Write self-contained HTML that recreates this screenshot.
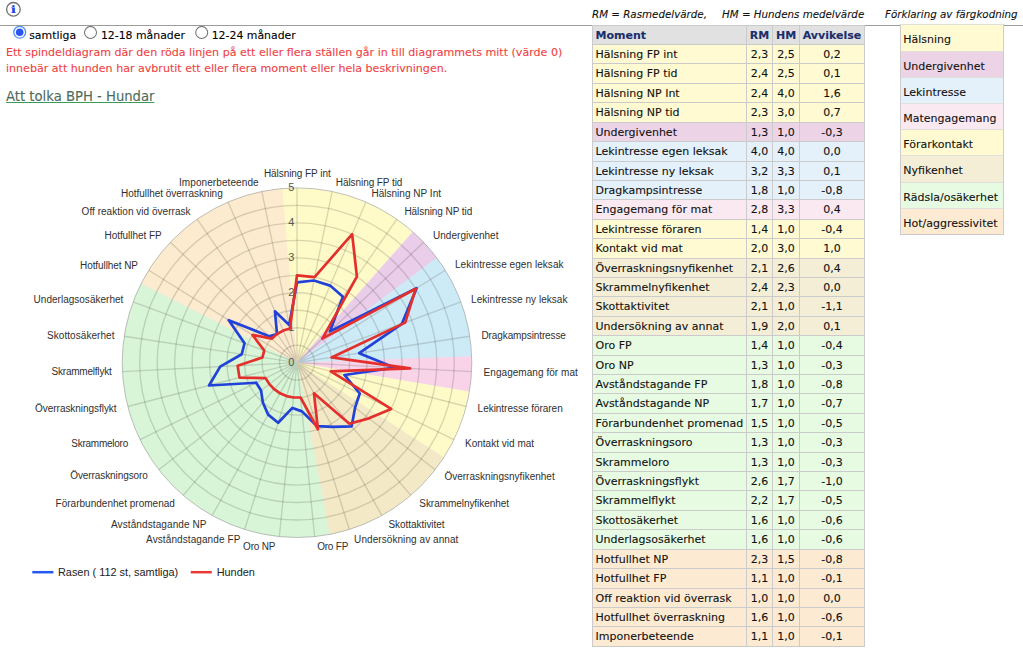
<!DOCTYPE html>
<html lang="sv"><head><meta charset="utf-8"><title>BPH spindeldiagram</title>
<style>html,body{margin:0;padding:0;background:#fff;}
body{-webkit-text-stroke:0.1px;width:1023px;height:655px;position:relative;overflow:hidden;font-family:"DejaVu Sans","Liberation Sans",sans-serif;font-size:11px;color:#111;}
.abs{position:absolute;white-space:nowrap;}
#hr{position:absolute;left:0;top:25px;width:1023px;height:1px;background:#9c9c9c;}
.rl{position:absolute;top:28.5px;font-size:10.9px;line-height:14px;color:#000;white-space:nowrap;}
#red{position:absolute;left:6px;top:45px;font-size:11.07px;line-height:15.55px;color:#ef4141;white-space:nowrap;}
#lnk{position:absolute;left:6px;top:88.5px;font-size:13.2px;line-height:16px;color:#4d6b5c;text-decoration:underline;text-decoration-color:#3b9a55;white-space:nowrap;}
.it{position:absolute;top:8px;font-style:italic;font-size:10.3px;line-height:13px;color:#111;white-space:pre;}
#tbl{position:absolute;left:592px;top:25px;width:273px;height:622px;background:#cbcbcb;}
.r{position:absolute;left:0;width:273px;}
.c{position:absolute;top:1px;bottom:0;line-height:20px;font-size:11px;white-space:nowrap;color:#111;}
.c1{left:1px;width:153px;text-indent:2.5px;}
.c2{left:155px;width:25px;text-align:center;}
.c3{left:181px;width:26px;text-align:center;}
.c4{left:208px;width:64px;text-align:center;}
.h .c{background:#e1e1e1;color:#1a2e6b;font-weight:bold;}
#leg{position:absolute;left:900px;top:24px;width:104px;height:211px;background:#dfdfdb;}
.lb{position:absolute;top:0;width:1px;height:211px;background:#cdcdcd;}
.lbb{position:absolute;left:0;bottom:0;width:104px;height:1px;background:#c9c9c9;}
.l{position:absolute;left:1px;width:102px;line-height:30px;font-size:11px;text-indent:2.3px;color:#111;white-space:nowrap;}
svg text{font-family:"Liberation Sans",sans-serif;-webkit-text-stroke:0;}
.ty .c,.l.ty{background:#fffad2;}
.tp .c,.l.tp{background:#ecd3e6;}
.tb .c,.l.tb{background:#e4f0fa;}
.tk .c,.l.tk{background:#fbe9f1;}
.tn .c,.l.tn{background:#f5eed6;}
.tg .c,.l.tg{background:#e6fbe2;}
.to .c,.l.to{background:#fdead3;}
</style></head><body>
<svg class="abs" style="left:0;top:0" width="40" height="24" viewBox="0 0 40 24"><circle cx="13.4" cy="9.3" r="6.8" fill="#fff" stroke="#707070" stroke-width="1.3"/><text transform="translate(13.45,12.85) scale(1.45,1.0)" x="0" y="0" text-anchor="middle" style="font-family:'DejaVu Serif','Liberation Serif',serif;font-weight:bold;font-size:10.4px;text-rendering:geometricPrecision" fill="#1f43f2">i</text></svg>
<div id="hr"></div>
<svg class="abs" style="left:0;top:26px" width="320" height="16" viewBox="0 26 320 16"><circle cx="19.7" cy="32.2" r="5.9" fill="#fff" stroke="#5590f7" stroke-width="1.3"/><circle cx="19.7" cy="32.2" r="3.8" fill="#2a55f3"/><circle cx="90.5" cy="32.5" r="6" fill="#fff" stroke="#727272" stroke-width="1.05"/><circle cx="201.7" cy="32.5" r="6" fill="#fff" stroke="#727272" stroke-width="1.05"/></svg>
<span class="rl" style="left:29.2px">samtliga</span><span class="rl" style="left:100.9px">12-18 månader</span><span class="rl" style="left:211.7px">12-24 månader</span>
<div id="red">Ett spindeldiagram där den röda linjen på ett eller flera ställen går in till diagrammets mitt (värde 0)<br>innebär att hunden har avbrutit ett eller flera moment eller hela beskrivningen.</div>
<a id="lnk">Att tolka BPH - Hundar</a>
<span class="it" style="left:592px">RM = Rasmedelvärde,</span><span class="it" style="left:722px">HM = Hundens medelvärde</span><span class="it" style="left:885px">Förklaring av färgkodning</span>
<div id="tbl">
<div class="r h" style="top:0;height:19px"><span class="c c1">Moment</span><span class="c c2">RM</span><span class="c c3">HM</span><span class="c c4">Avvikelse</span></div>
<div class="r ty" style="top:19px;height:19px"><span class="c c1">Hälsning FP int</span><span class="c c2">2,3</span><span class="c c3">2,5</span><span class="c c4">0,2</span></div>
<div class="r ty" style="top:38px;height:20px"><span class="c c1">Hälsning FP tid</span><span class="c c2">2,4</span><span class="c c3">2,5</span><span class="c c4">0,1</span></div>
<div class="r ty" style="top:58px;height:19px"><span class="c c1">Hälsning NP Int</span><span class="c c2">2,4</span><span class="c c3">4,0</span><span class="c c4">1,6</span></div>
<div class="r ty" style="top:77px;height:20px"><span class="c c1">Hälsning NP tid</span><span class="c c2">2,3</span><span class="c c3">3,0</span><span class="c c4">0,7</span></div>
<div class="r tp" style="top:97px;height:19px"><span class="c c1">Undergivenhet</span><span class="c c2">1,3</span><span class="c c3">1,0</span><span class="c c4">-0,3</span></div>
<div class="r tb" style="top:116px;height:20px"><span class="c c1">Lekintresse egen leksak</span><span class="c c2">4,0</span><span class="c c3">4,0</span><span class="c c4">0,0</span></div>
<div class="r tb" style="top:136px;height:19px"><span class="c c1">Lekintresse ny leksak</span><span class="c c2">3,2</span><span class="c c3">3,3</span><span class="c c4">0,1</span></div>
<div class="r tb" style="top:155px;height:19px"><span class="c c1">Dragkampsintresse</span><span class="c c2">1,8</span><span class="c c3">1,0</span><span class="c c4">-0,8</span></div>
<div class="r tk" style="top:174px;height:20px"><span class="c c1">Engagemang för mat</span><span class="c c2">2,8</span><span class="c c3">3,3</span><span class="c c4">0,4</span></div>
<div class="r ty" style="top:194px;height:19px"><span class="c c1">Lekintresse föraren</span><span class="c c2">1,4</span><span class="c c3">1,0</span><span class="c c4">-0,4</span></div>
<div class="r ty" style="top:213px;height:20px"><span class="c c1">Kontakt vid mat</span><span class="c c2">2,0</span><span class="c c3">3,0</span><span class="c c4">1,0</span></div>
<div class="r tn" style="top:233px;height:19px"><span class="c c1">Överraskningsnyfikenhet</span><span class="c c2">2,1</span><span class="c c3">2,6</span><span class="c c4">0,4</span></div>
<div class="r tn" style="top:252px;height:19px"><span class="c c1">Skrammelnyfikenhet</span><span class="c c2">2,4</span><span class="c c3">2,3</span><span class="c c4">0,0</span></div>
<div class="r tn" style="top:271px;height:20px"><span class="c c1">Skottaktivitet</span><span class="c c2">2,1</span><span class="c c3">1,0</span><span class="c c4">-1,1</span></div>
<div class="r tn" style="top:291px;height:19px"><span class="c c1">Undersökning av annat</span><span class="c c2">1,9</span><span class="c c3">2,0</span><span class="c c4">0,1</span></div>
<div class="r tg" style="top:310px;height:20px"><span class="c c1">Oro FP</span><span class="c c2">1,4</span><span class="c c3">1,0</span><span class="c c4">-0,4</span></div>
<div class="r tg" style="top:330px;height:19px"><span class="c c1">Oro NP</span><span class="c c2">1,3</span><span class="c c3">1,0</span><span class="c c4">-0,3</span></div>
<div class="r tg" style="top:349px;height:19px"><span class="c c1">Avståndstagande FP</span><span class="c c2">1,8</span><span class="c c3">1,0</span><span class="c c4">-0,8</span></div>
<div class="r tg" style="top:368px;height:20px"><span class="c c1">Avståndstagande NP</span><span class="c c2">1,7</span><span class="c c3">1,0</span><span class="c c4">-0,7</span></div>
<div class="r tg" style="top:388px;height:19px"><span class="c c1">Förarbundenhet promenad</span><span class="c c2">1,5</span><span class="c c3">1,0</span><span class="c c4">-0,5</span></div>
<div class="r tg" style="top:407px;height:20px"><span class="c c1">Överraskningsoro</span><span class="c c2">1,3</span><span class="c c3">1,0</span><span class="c c4">-0,3</span></div>
<div class="r tg" style="top:427px;height:19px"><span class="c c1">Skrammeloro</span><span class="c c2">1,3</span><span class="c c3">1,0</span><span class="c c4">-0,3</span></div>
<div class="r tg" style="top:446px;height:19px"><span class="c c1">Överraskningsflykt</span><span class="c c2">2,6</span><span class="c c3">1,7</span><span class="c c4">-1,0</span></div>
<div class="r tg" style="top:465px;height:20px"><span class="c c1">Skrammelflykt</span><span class="c c2">2,2</span><span class="c c3">1,7</span><span class="c c4">-0,5</span></div>
<div class="r tg" style="top:485px;height:19px"><span class="c c1">Skottosäkerhet</span><span class="c c2">1,6</span><span class="c c3">1,0</span><span class="c c4">-0,6</span></div>
<div class="r tg" style="top:504px;height:20px"><span class="c c1">Underlagsosäkerhet</span><span class="c c2">1,6</span><span class="c c3">1,0</span><span class="c c4">-0,6</span></div>
<div class="r to" style="top:524px;height:19px"><span class="c c1">Hotfullhet NP</span><span class="c c2">2,3</span><span class="c c3">1,5</span><span class="c c4">-0,8</span></div>
<div class="r to" style="top:543px;height:20px"><span class="c c1">Hotfullhet FP</span><span class="c c2">1,1</span><span class="c c3">1,0</span><span class="c c4">-0,1</span></div>
<div class="r to" style="top:563px;height:19px"><span class="c c1">Off reaktion vid överrask</span><span class="c c2">1,0</span><span class="c c3">1,0</span><span class="c c4">0,0</span></div>
<div class="r to" style="top:582px;height:19px"><span class="c c1">Hotfullhet överraskning</span><span class="c c2">1,6</span><span class="c c3">1,0</span><span class="c c4">-0,6</span></div>
<div class="r to" style="top:601px;height:20px"><span class="c c1">Imponerbeteende</span><span class="c c2">1,1</span><span class="c c3">1,0</span><span class="c c4">-0,1</span></div>
</div>
<div id="leg">
<div class="l ty" style="top:1px;height:26px">Hälsning</div>
<div class="l tp" style="top:28px;height:25px">Undergivenhet</div>
<div class="l tb" style="top:54px;height:25px">Lekintresse</div>
<div class="l tk" style="top:80px;height:25px">Matengagemang</div>
<div class="l ty" style="top:106px;height:25px">Förarkontakt</div>
<div class="l tn" style="top:132px;height:26px">Nyfikenhet</div>
<div class="l tg" style="top:159px;height:25px">Rädsla/osäkerhet</div>
<div class="l to" style="top:185px;height:25px">Hot/aggressivitet</div>
<i class="lb" style="left:0"></i><i class="lb" style="right:0"></i><i class="lbb"></i></div>
<svg class="abs" style="left:0;top:150px" width="590" height="450" viewBox="0 150 590 450">
<defs><clipPath id="cc"><circle cx="297.0" cy="362.7" r="174.8"/></clipPath></defs>
<g clip-path="url(#cc)">
<path d="M297.0,362.7 L279.08,153.71 A209.76,209.76 0 0 1 436.13,205.72 Z" fill="#fffbc8" stroke="#fffbc8" stroke-width="0.5"/>
<path d="M297.0,362.7 L436.13,205.72 A209.76,209.76 0 0 1 464.88,236.94 Z" fill="#e9cde9" stroke="#e9cde9" stroke-width="0.5"/>
<path d="M297.0,362.7 L464.88,236.94 A209.76,209.76 0 0 1 506.63,355.39 Z" fill="#cdeaf7" stroke="#cdeaf7" stroke-width="0.5"/>
<path d="M297.0,362.7 L506.63,355.39 A209.76,209.76 0 0 1 503.81,397.74 Z" fill="#f9d3e8" stroke="#f9d3e8" stroke-width="0.5"/>
<path d="M297.0,362.7 L503.81,397.74 A209.76,209.76 0 0 1 473.23,476.46 Z" fill="#fffbc8" stroke="#fffbc8" stroke-width="0.5"/>
<path d="M297.0,362.7 L473.23,476.46 A209.76,209.76 0 0 1 335.97,568.81 Z" fill="#f3e9c6" stroke="#f3e9c6" stroke-width="0.5"/>
<path d="M297.0,362.7 L335.97,568.81 A209.76,209.76 0 0 1 110.16,267.36 Z" fill="#d8f5d8" stroke="#d8f5d8" stroke-width="0.5"/>
<path d="M297.0,362.7 L110.16,267.36 A209.76,209.76 0 0 1 279.08,153.71 Z" fill="#fcebce" stroke="#fcebce" stroke-width="0.5"/>
</g>
<g fill="none" stroke="rgba(60,60,50,0.19)" stroke-width="1.35">
<circle cx="297.0" cy="362.7" r="17.48"/><circle cx="297.0" cy="362.7" r="34.96"/><circle cx="297.0" cy="362.7" r="52.44"/><circle cx="297.0" cy="362.7" r="69.92"/><circle cx="297.0" cy="362.7" r="87.40"/><circle cx="297.0" cy="362.7" r="104.88"/><circle cx="297.0" cy="362.7" r="122.36"/><circle cx="297.0" cy="362.7" r="139.84"/><circle cx="297.0" cy="362.7" r="157.32"/>
<path d="M297.0,362.7L297.00,187.90M297.0,362.7L332.19,191.48M297.0,362.7L365.93,202.07M297.0,362.7L396.86,219.23M297.0,362.7L423.69,242.27M297.0,362.7L445.34,270.24M297.0,362.7L460.92,301.99M297.0,362.7L469.78,336.23M297.0,362.7L471.58,371.55M297.0,362.7L466.22,406.51M297.0,362.7L453.94,439.68M297.0,362.7L435.23,469.70M297.0,362.7L410.86,495.33M297.0,362.7L381.83,515.54M297.0,362.7L349.33,529.48M297.0,362.7L314.68,536.60M297.0,362.7L279.32,536.60M297.0,362.7L244.67,529.48M297.0,362.7L212.17,515.54M297.0,362.7L183.14,495.33M297.0,362.7L158.77,469.70M297.0,362.7L140.06,439.68M297.0,362.7L127.78,406.51M297.0,362.7L122.42,371.55M297.0,362.7L124.22,336.23M297.0,362.7L133.08,301.99M297.0,362.7L148.66,270.24M297.0,362.7L170.31,242.27M297.0,362.7L197.14,219.23M297.0,362.7L228.07,202.07M297.0,362.7L261.81,191.48"/></g>
<circle cx="297.0" cy="362.7" r="174.8" fill="none" stroke="rgba(140,140,140,0.6)" stroke-width="0.9"/>
<text x="294.4" y="365.6" text-anchor="end" font-size="11" fill="#555">0</text><text x="294.4" y="330.6" text-anchor="end" font-size="11" fill="#555">1</text><text x="294.4" y="295.7" text-anchor="end" font-size="11" fill="#555">2</text><text x="294.4" y="260.7" text-anchor="end" font-size="11" fill="#555">3</text><text x="294.4" y="225.8" text-anchor="end" font-size="11" fill="#555">4</text><text x="294.4" y="190.8" text-anchor="end" font-size="11" fill="#555">5</text>
<polygon points="297.00,282.29 313.89,280.51 330.09,285.60 342.93,296.70 329.94,331.39 416.56,288.17 401.91,323.85 359.20,353.17 394.76,367.66 344.38,374.97 359.77,393.49 355.06,407.64 351.65,426.36 332.63,426.89 316.88,426.08 301.95,411.39 292.40,407.91 278.16,422.74 268.16,414.66 262.84,402.49 261.06,390.52 256.20,382.72 209.01,385.48 220.19,366.60 241.71,354.23 244.55,343.27 228.76,320.17 269.13,336.21 277.03,334.01 274.94,311.30 289.26,325.03" fill="none" stroke="#2142d8" stroke-width="2.7" stroke-linejoin="round"/>
<polygon points="297.00,275.30 314.59,277.09 352.15,234.19 356.91,276.62 322.34,338.61 415.67,288.73 405.19,322.63 331.56,357.41 410.13,368.44 330.84,371.46 391.16,408.89 368.88,418.34 349.38,423.71 313.97,393.27 317.93,429.41 300.54,397.48 293.46,397.48 286.53,396.06 280.03,393.27 274.23,389.23 269.35,384.10 265.61,378.10 239.47,377.60 237.64,365.71 262.44,357.41 264.22,350.56 252.50,334.96 271.66,338.61 277.03,334.01 283.21,330.57 289.96,328.46" fill="none" stroke="#e3302d" stroke-width="2.7" stroke-linejoin="round"/>
<g font-size="10" fill="#303030">
<text x="263.9" y="176.7" textLength="66.8" lengthAdjust="spacing">Hälsning FP int</text>
<text x="335.8" y="186.0" textLength="66.6" lengthAdjust="spacing">Hälsning FP tid</text>
<text x="371.4" y="196.5" textLength="69.6" lengthAdjust="spacing">Hälsning NP Int</text>
<text x="404.4" y="215.0" textLength="67.9" lengthAdjust="spacing">Hälsning NP tid</text>
<text x="432.9" y="239.3" textLength="65.6" lengthAdjust="spacing">Undergivenhet</text>
<text x="455.0" y="268.4" textLength="108.5" lengthAdjust="spacing">Lekintresse egen leksak</text>
<text x="471.1" y="302.9" textLength="96.3" lengthAdjust="spacing">Lekintresse ny leksak</text>
<text x="481.5" y="338.9" textLength="84.4" lengthAdjust="spacing">Dragkampsintresse</text>
<text x="483.6" y="375.7" textLength="94.2" lengthAdjust="spacing">Engagemang för mat</text>
<text x="477.6" y="412.2" textLength="85.1" lengthAdjust="spacing">Lekintresse föraren</text>
<text x="465.0" y="447.4" textLength="69.1" lengthAdjust="spacing">Kontakt vid mat</text>
<text x="444.4" y="479.7" textLength="110.3" lengthAdjust="spacing">Överraskningsnyfikenhet</text>
<text x="419.3" y="506.9" textLength="89.7" lengthAdjust="spacing">Skrammelnyfikenhet</text>
<text x="388.4" y="527.9" textLength="56.2" lengthAdjust="spacing">Skottaktivitet</text>
<text x="354.1" y="542.9" textLength="104.3" lengthAdjust="spacing">Undersökning av annat</text>
<text x="317.2" y="550.4" textLength="31.1" lengthAdjust="spacing">Oro FP</text>
<text x="243.1" y="550.1" textLength="32.3" lengthAdjust="spacing">Oro NP</text>
<text x="146.1" y="542.6" textLength="94.2" lengthAdjust="spacing">Avståndstagande FP</text>
<text x="111.0" y="527.6" textLength="95.5" lengthAdjust="spacing">Avståndstagande NP</text>
<text x="55.5" y="506.6" textLength="119.4" lengthAdjust="spacing">Förarbundenhet promenad</text>
<text x="70.2" y="479.2" textLength="77.7" lengthAdjust="spacing">Överraskningsoro</text>
<text x="71.3" y="447.2" textLength="56.9" lengthAdjust="spacing">Skrammeloro</text>
<text x="35.1" y="412.4" textLength="81.5" lengthAdjust="spacing">Överraskningsflykt</text>
<text x="51.6" y="375.2" textLength="60.1" lengthAdjust="spacing">Skrammelflykt</text>
<text x="47.0" y="338.6" textLength="67.5" lengthAdjust="spacing">Skottosäkerhet</text>
<text x="33.6" y="302.6" textLength="89.7" lengthAdjust="spacing">Underlagsosäkerhet</text>
<text x="80.0" y="268.6" textLength="58.0" lengthAdjust="spacing">Hotfullhet NP</text>
<text x="104.5" y="239.2" textLength="57.1" lengthAdjust="spacing">Hotfullhet FP</text>
<text x="81.6" y="215.2" textLength="108.9" lengthAdjust="spacing">Off reaktion vid överrask</text>
<text x="121.0" y="196.5" textLength="101.7" lengthAdjust="spacing">Hotfullhet överraskning</text>
<text x="179.0" y="185.8" textLength="79.6" lengthAdjust="spacing">Imponerbeteende</text>
</g>
<line x1="32.3" y1="572.2" x2="53.4" y2="572.2" stroke="#2458f0" stroke-width="2.5"/>
<line x1="190.7" y1="572.2" x2="211.8" y2="572.2" stroke="#e63a36" stroke-width="2.5"/>
<text x="58" y="576.2" font-size="10.9" fill="#222">Rasen ( 112 st, samtliga)</text>
<text x="216.7" y="576.2" font-size="10.9" fill="#222">Hunden</text>
</svg>
</body></html>
